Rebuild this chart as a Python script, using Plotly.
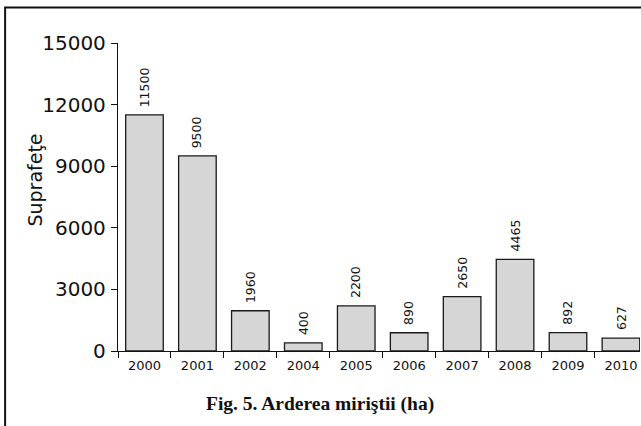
import plotly.graph_objects as go

years = ["2000", "2001", "2002", "2004", "2005", "2006", "2007", "2008", "2009", "2010"]
values = [11500, 9500, 1960, 400, 2200, 890, 2650, 4465, 892, 627]
y_ticks = [0, 3000, 6000, 9000, 12000, 15000]
title_text = "Fig. 5. Arderea miriştii (ha)"
y_title = "Suprafeţe"

W, H = 641, 426
L, R, T, B = 117.5, 1, 43, 75
pw = W - L - R
ph = H - T - B

fig = go.Figure()
fig.add_trace(go.Bar(
    x=years, y=values,
    marker=dict(color="#d6d6d6", line=dict(color="#1a1a1a", width=1.3)),
    width=0.71,
))

for i, v in enumerate(values):
    fig.add_annotation(x=i, y=v, text=str(v), textangle=-90, showarrow=False,
                       xanchor="center", yanchor="bottom", yshift=6,
                       font=dict(family="DejaVu Sans", size=12.5, color="#111"))

fig.add_annotation(xref="paper", yref="paper", x=(34 - L) / pw, y=(H - B - 180) / ph,
                   text=y_title, textangle=-90, showarrow=False,
                   xanchor="center", yanchor="middle",
                   font=dict(family="DejaVu Sans", size=19, color="#111"))

fig.add_annotation(xref="paper", yref="paper", x=(320 - L) / pw, y=(H - B - 404) / ph,
                   text="<b>" + title_text + "</b>", showarrow=False,
                   xanchor="center", yanchor="middle",
                   font=dict(family="Liberation Serif", size=19.5, color="#111"))

# outer frame
fig.add_shape(type="rect", xref="paper", yref="paper",
              x0=(4.5 - L) / pw, x1=(660 - L) / pw,
              y0=(H - B - 440) / ph, y1=(H - B - 7.5) / ph,
              line=dict(color="#111", width=2), fillcolor="rgba(0,0,0,0)", layer="below")

fig.update_layout(
    width=W, height=H,
    margin=dict(l=L, r=R, t=T, b=B, autoexpand=False),
    paper_bgcolor="white", plot_bgcolor="white",
    showlegend=False,
    font=dict(family="DejaVu Sans", color="#111"),
    xaxis=dict(type="category", range=[-0.5, 9.36], showgrid=False, zeroline=False,
               showline=True, linecolor="#111", linewidth=1.3,
               ticks="outside", tickson="boundaries", ticklen=6, tickcolor="#111", tickwidth=1.3,
               ticklabelstandoff=2,
               tickfont=dict(family="DejaVu Sans", size=13, color="#111")),
    yaxis=dict(range=[0, 15000], tickvals=y_ticks, ticktext=[str(t) for t in y_ticks],
               showgrid=False, zeroline=False,
               showline=True, linecolor="#111", linewidth=1.3,
               ticks="outside", ticklen=6, tickcolor="#111", tickwidth=1.3,
               ticklabelstandoff=1,
               tickfont=dict(family="DejaVu Sans", size=20, color="#111")),
)

fig.write_html("out.html", config={"displayModeBar": False},
               post_script="document.body.style.margin='0';document.body.style.overflow='hidden';")
